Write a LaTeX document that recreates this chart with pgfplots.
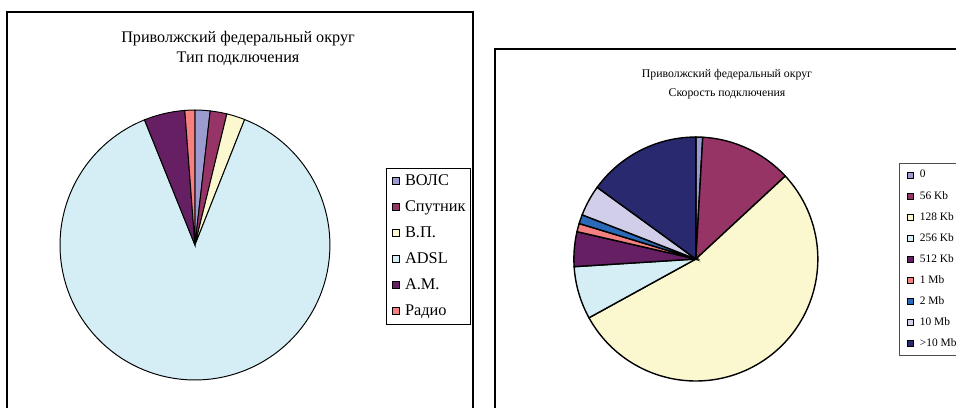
\documentclass[border=0pt]{standalone}
\usepackage{fontspec}
\setmainfont{Liberation Serif}
\usepackage{pgfplots}
\usepackage{pgfplotstable}
\pgfplotsset{compat=1.18}

% shares in percent
\pgfplotstableread[col sep=comma]{
label,value
ВОЛС,1.8
Спутник,2.0
В.П.,2.2
ADSL,87.9
А.М.,4.9
Радио,1.2
}\typedata

\pgfplotstableread[col sep=comma]{
label,value
0,0.9
56 Kb,12.2
128 Kb,53.9
256 Kb,7.0
512 Kb,4.6
1 Mb,1.1
2 Mb,1.2
10 Mb,4.1
>10 Mb,15.0
}\speeddata

\definecolor{Lc0}{HTML}{9B9BD0}
\definecolor{Lc1}{HTML}{963565}
\definecolor{Lc2}{HTML}{FBF8D0}
\definecolor{Lc3}{HTML}{D5EEF5}
\definecolor{Lc4}{HTML}{651F62}
\definecolor{Lc5}{HTML}{F58080}
\definecolor{Rc0}{HTML}{9B9BD0}
\definecolor{Rc1}{HTML}{963565}
\definecolor{Rc2}{HTML}{FBF8D0}
\definecolor{Rc3}{HTML}{D5EEF5}
\definecolor{Rc4}{HTML}{651F62}
\definecolor{Rc5}{HTML}{F58080}
\definecolor{Rc6}{HTML}{2A6AB8}
\definecolor{Rc7}{HTML}{D0CEE8}
\definecolor{Rc8}{HTML}{292970}

% start/end angle of every slice, clockwise from 12 o'clock
\newcommand{\pieangles}[2]{%
  \pgfplotstablegetrowsof{#1}%
  \pgfmathtruncatemacro{\nlast}{\pgfplotsretval-1}%
  \xdef\piecum{0}%
  \pgfplotsforeachungrouped \k in {0,...,\nlast}{%
    \pgfplotstablegetelem{\k}{value}\of{#1}%
    \pgfmathsetmacro{\tmpa}{90-3.6*\piecum}%
    \pgfmathsetmacro{\tmpc}{\piecum+\pgfplotsretval}%
    \xdef\piecum{\tmpc}%
    \pgfmathsetmacro{\tmpb}{90-3.6*\piecum}%
    \expandafter\xdef\csname #2s\k\endcsname{\tmpa}%
    \expandafter\xdef\csname #2e\k\endcsname{\tmpb}%
  }%
}
\pieangles{\typedata}{L}
\pieangles{\speeddata}{R}

\pgfplotsset{
  pie/.style={
    scale only axis, hide axis, clip=false, anchor=center,
    xmin=-1, xmax=1, ymin=-1, ymax=1,
    legend cell align=left,
  },
}

\begin{document}
\begin{tikzpicture}[x=0.02cm, y=0.02cm]
\useasboundingbox (0,0) rectangle (956,408);
\draw[line width=0.85pt] (7,396) rectangle (473,-30);
\draw[line width=0.85pt] (495,359) rectangle (990,-30);

\node[font=\fontsize{9.2}{11.4}\selectfont, align=center] at (238,360)
  {Приволжский федеральный округ\\Тип подключения};
\node[font=\fontsize{6.7}{10.8}\selectfont, align=center] at (727,323.5)
  {Приволжский федеральный округ\\Скорость подключения};

\begin{axis}[pie, at={(3.9cm,3.26cm)}, width=5.4cm, height=5.4cm,
  legend image code/.code={\path (-0.05cm,0) (0.2cm,0);
    \draw[#1, line width=0.5pt] (0cm,-0.07cm) rectangle (0.14cm,0.07cm);},
  legend style={at={(1.207,0.496)}, anchor=west, draw=black, line width=0.6pt,
    font=\fontsize{9.3}{11}\selectfont, row sep=3pt, inner sep=1.5pt,
    nodes={inner sep=1.5pt, text height=6.8pt, text depth=2pt}},
]
\pgfplotsinvokeforeach{0,...,5}{
  \addplot[draw=black, line width=0.55pt, fill=Lc#1, samples=120, variable=\t,
    domain=\csname Le#1\endcsname:\csname Ls#1\endcsname]
    ({cos(\t)},{sin(\t)}) -- (axis cs:0,0) -- cycle;
}
\legend{ВОЛС,Спутник,В.П.,ADSL,А.М.,Радио}
\end{axis}

\begin{axis}[pie, at={(13.92cm,2.98cm)}, width=4.88cm, height=4.88cm,
  legend image code/.code={\path (-0.08cm,0) (0.18cm,0);
    \draw[#1, line width=0.5pt] (0cm,-0.06cm) rectangle (0.12cm,0.06cm);},
  legend style={at={(1.332,0.498)}, anchor=west, draw=black!70, line width=0.6pt,
    font=\fontsize{6.5}{8}\selectfont, row sep=3pt, inner sep=2pt,
    nodes={inner sep=1.5pt, text height=4.6pt, text depth=1.4pt}},
]
\pgfplotsinvokeforeach{0,...,8}{
  \addplot[draw=black, line width=0.8pt, fill=Rc#1, samples=120, variable=\t,
    domain=\csname Re#1\endcsname:\csname Rs#1\endcsname]
    ({cos(\t)},{sin(\t)}) -- (axis cs:0,0) -- cycle;
}
\legend{0,56 Kb,128 Kb,256 Kb,512 Kb,1 Mb,2 Mb,10 Mb,>10 Mb}
\end{axis}
\end{tikzpicture}
\end{document}
